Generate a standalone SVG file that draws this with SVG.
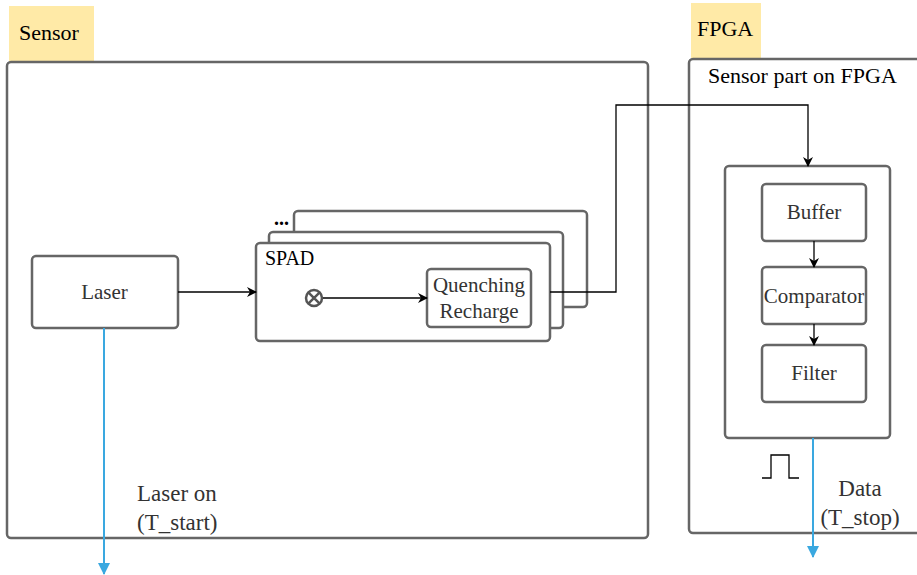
<svg xmlns="http://www.w3.org/2000/svg" width="917" height="575" viewBox="0 0 917 575">
  <style>
    .box { fill: #ffffff; stroke: #666666; stroke-width: 2.5; }
    .tag { fill: #ffeaa7; stroke: none; }
    text { font-family: 'Liberation Serif', 'Times New Roman', serif; }
    .lbl { fill: #000000; }
    .txt { fill: #333333; font-size: 21px; text-anchor: middle; }
    .cap { fill: #333333; font-size: 23px; }
    .wire { fill: none; stroke: #000000; stroke-width: 1.3; }
    .sig { fill: none; stroke: #3aa8e0; stroke-width: 2; }
  </style>
  <defs>
    <marker id="arr" viewBox="0 0 10 10" refX="9" refY="5" markerWidth="10" markerHeight="10" markerUnits="userSpaceOnUse" orient="auto">
      <path d="M0,0 L10,5 L0,10 L3,5 Z" fill="#000000"/>
    </marker>
    <marker id="arrBlue" viewBox="0 0 12 12" refX="11" refY="6" markerWidth="12" markerHeight="12" markerUnits="userSpaceOnUse" orient="auto">
      <path d="M0,0 L12,6 L0,12 Z" fill="#3aa8e0"/>
    </marker>
  </defs>

  <!-- Sensor side -->
  <g id="sensor-tag">
    <rect class="tag" x="9" y="6" width="85" height="55"/>
    <text class="lbl" x="19" y="40" font-size="22">Sensor</text>
  </g>
  <g id="sensor">
    <rect class="box" x="7" y="62" width="641" height="476" rx="4"/>
  </g>

  <g id="laser">
    <rect class="box" x="32" y="256" width="146" height="72" rx="4"/>
    <text class="txt" x="104.5" y="299">Laser</text>
  </g>

  <!-- further SPAD channels stacked behind the first one -->
  <g id="spad-stack">
    <rect class="box" x="294" y="211" width="293" height="96" rx="4"/>
    <rect class="box" x="269" y="232" width="294" height="96" rx="4"/>
    <text class="lbl" x="274" y="225" font-size="20" font-weight="bold">...</text>
  </g>
  <g id="spad">
    <rect class="box" x="256" y="243" width="294" height="98" rx="4"/>
    <text class="lbl" x="265" y="265" font-size="20">SPAD</text>
    <circle cx="314" cy="298" r="8" fill="#ffffff" stroke="#555555" stroke-width="2.5"/>
    <path d="M308.3,292.3 L319.7,303.7 M319.7,292.3 L308.3,303.7" stroke="#555555" stroke-width="2.5"/>
  </g>
  <g id="quenching">
    <rect class="box" x="427" y="269" width="104" height="58" rx="4"/>
    <text class="txt" x="479" y="292">Quenching</text>
    <text class="txt" x="479" y="318">Recharge</text>
  </g>

  <g id="laser-on-label">
    <text class="cap" x="137" y="501">Laser on</text>
    <text class="cap" x="137" y="530">(T_start)</text>
  </g>

  <!-- FPGA side -->
  <g id="fpga-tag">
    <rect class="tag" x="691" y="3" width="70" height="55"/>
    <text class="lbl" x="697" y="36" font-size="22">FPGA</text>
  </g>
  <g id="fpga">
    <rect class="box" x="689" y="59" width="240" height="474" rx="4"/>
    <text class="lbl" x="708" y="83" font-size="22">Sensor part on FPGA</text>
  </g>
  <g id="fpga-block">
    <rect class="box" x="725" y="166" width="165" height="272" rx="4"/>
  </g>
  <g id="buffer">
    <rect class="box" x="762" y="184" width="104" height="57" rx="4"/>
    <text class="txt" x="814" y="219">Buffer</text>
  </g>
  <g id="comparator">
    <rect class="box" x="762" y="267" width="104" height="57" rx="4"/>
    <text class="txt" x="814" y="303">Comparator</text>
  </g>
  <g id="filter">
    <rect class="box" x="762" y="345" width="104" height="57" rx="4"/>
    <text class="txt" x="814" y="380">Filter</text>
  </g>

  <!-- output pulse and its label -->
  <g id="data-label">
    <path d="M762,478 H771 V455 H789 V478 H799" fill="none" stroke="#000000" stroke-width="1.3"/>
    <text class="cap" x="860" y="496" text-anchor="middle">Data</text>
    <text class="cap" x="860" y="525" text-anchor="middle">(T_stop)</text>
  </g>

  <!-- Connectors -->
  <g id="connectors">
    <path class="wire" d="M178,292 H256" marker-end="url(#arr)"/>
    <path class="wire" d="M323,298 H427" marker-end="url(#arr)"/>
    <path class="wire" d="M550,292 H616 V105 H808 V166" marker-end="url(#arr)"/>
    <path class="wire" d="M814,241 V267" marker-end="url(#arr)"/>
    <path class="wire" d="M814,324 V345" marker-end="url(#arr)"/>
    <path class="sig" d="M104,328 V574" marker-end="url(#arrBlue)"/>
    <path class="sig" d="M813,438 V557" marker-end="url(#arrBlue)"/>
  </g>
</svg>
